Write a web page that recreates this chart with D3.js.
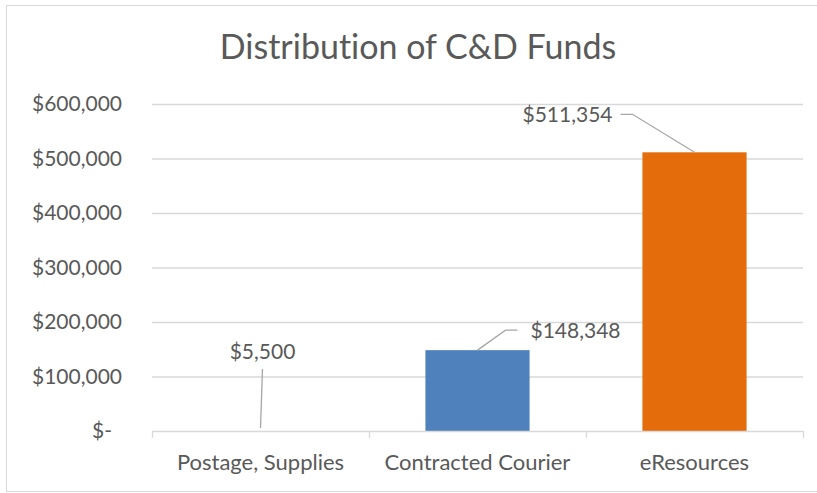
<!DOCTYPE html>
<html>
<head>
<meta charset="utf-8">
<script src="https://cdn.jsdelivr.net/npm/d3@7"></script>
<style>
  body { margin: 0; background: #fff; }
  text { font-family: Lato, "Open Sans", sans-serif; fill: #595959; font-variant-ligatures: none; }
</style>
</head>
<body>
<div id="chart"></div>
<script>
// Chart data
const categories = ["Postage, Supplies", "Contracted Courier", "eResources"];
const amounts = [5500, 148348, 511354];
const barColors = ["none", "#4f81bd", "#e46c0a"];
const yTicks = [0, 100000, 200000, 300000, 400000, 500000, 600000];

const width = 817;
const height = 493;
const margin = {top: 104, right: 14, bottom: 62, left: 152};

const svg = d3.select("#chart")
  .append("svg")
    .attr("width", width)
    .attr("height", height);

// chart border
svg.append("rect")
    .attr("x", 6.5).attr("y", 5.5)
    .attr("width", 815).attr("height", 486)
    .attr("fill", "none")
    .attr("stroke", "#d9d9d9");

svg.append("text")
    .attr("x", 418)
    .attr("y", 59)
    .attr("text-anchor", "middle")
    .style("font-size", "34px")
    .text("Distribution of C&D Funds");

const x = d3.scaleBand()
    .domain(categories)
    .range([margin.left, width - margin.right])
    .paddingInner(0.52)
    .paddingOuter(0.26);

const y = d3.scaleLinear()
    .domain([0, 600000])
    .range([height - margin.bottom, margin.top]);

const fmt = v => v === 0 ? "$-" : "$" + d3.format(",")(v);

// gridlines
svg.append("g")
  .selectAll("line")
  .data(yTicks.filter(d => d > 0))
  .enter().append("line")
    .attr("x1", margin.left)
    .attr("x2", width - margin.right)
    .attr("y1", d => y(d) + 0.5)
    .attr("y2", d => y(d) + 0.5)
    .attr("stroke", "#d9d9d9")
    .attr("stroke-width", 1.3);

// y labels
svg.append("g")
  .selectAll("text")
  .data(yTicks)
  .enter().append("text")
    .attr("x", d => d === 0 ? 112 : 122)
    .attr("y", d => y(d))
    .attr("dy", "0.35em")
    .attr("text-anchor", "end")
    .style("font-size", "21px")
    .text(fmt);

// bars
svg.append("g")
  .selectAll("rect")
  .data(amounts)
  .enter().append("rect")
    .attr("x", (d, i) => x(categories[i]))
    .attr("width", x.bandwidth())
    .attr("y", d => y(d))
    .attr("height", d => y(0) - y(d))
    .attr("fill", (d, i) => barColors[i]);

// x axis
const step = x.step();
const xAxis = svg.append("g");
xAxis.append("line")
    .attr("x1", margin.left).attr("x2", width - margin.right)
    .attr("y1", y(0) + 0.5).attr("y2", y(0) + 0.5)
    .attr("stroke", "#d9d9d9").attr("stroke-width", 1.3);
xAxis.selectAll("line.tick")
  .data(d3.range(categories.length + 1))
  .enter().append("line")
    .attr("class", "tick")
    .attr("x1", i => margin.left + i * step + 0.5)
    .attr("x2", i => margin.left + i * step + 0.5)
    .attr("y1", y(0))
    .attr("y2", y(0) + 7)
    .attr("stroke", "#d9d9d9").attr("stroke-width", 1.3);
xAxis.selectAll("text")
  .data(categories)
  .enter().append("text")
    .attr("x", d => x(d) + x.bandwidth() / 2)
    .attr("y", y(0) + 39)
    .attr("text-anchor", "middle")
    .style("font-size", "22px")
    .text(d => d);

// data labels with leader lines (offsets relative to bar top)
const labelOffsets = [
  {lx: 2, ly: -76, anchor: "middle", path: [[0, 0], [2, -59]]},
  {lx: 53, ly: -20, anchor: "start", path: [[0, 0], [28, -20], [40, -20]]},
  {lx: -82, ly: -38, anchor: "end", path: [[0, 0], [-62, -38], [-74, -38]]}
];

const labels = svg.append("g");
amounts.forEach((v, i) => {
  const cx = x(categories[i]) + x.bandwidth() / 2;
  const cy = y(v);
  const o = labelOffsets[i];
  labels.append("path")
      .attr("d", d3.line()(o.path.map(p => [cx + p[0], cy + p[1]])))
      .attr("fill", "none")
      .attr("stroke", "#a6a6a6")
      .attr("stroke-width", 1.3);
  labels.append("text")
      .attr("x", cx + o.lx)
      .attr("y", cy + o.ly)
      .attr("dy", "0.35em")
      .attr("text-anchor", o.anchor)
      .style("font-size", "21px")
      .text(fmt(v));
});
</script>
</body>
</html>
